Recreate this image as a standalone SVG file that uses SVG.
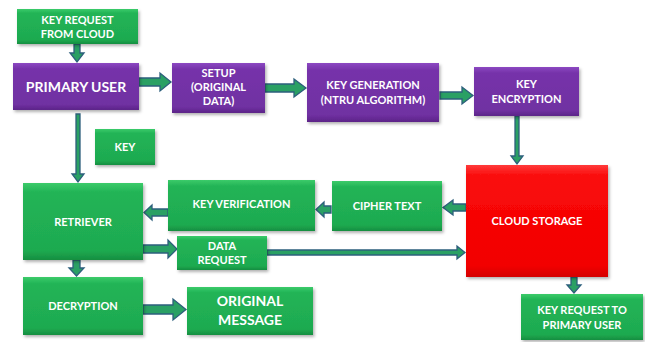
<svg xmlns="http://www.w3.org/2000/svg" width="645" height="342" viewBox="0 0 645 342">
<defs>
<linearGradient id="gG" x1="0" y1="0" x2="0" y2="1">
<stop offset="0" stop-color="#3ccb6a"/><stop offset="0.12" stop-color="#22b456"/><stop offset="0.88" stop-color="#1eaa50"/><stop offset="1" stop-color="#168e40"/>
</linearGradient>
<linearGradient id="gP" x1="0" y1="0" x2="0" y2="1">
<stop offset="0" stop-color="#8c48c2"/><stop offset="0.12" stop-color="#7633aa"/><stop offset="0.88" stop-color="#7030a2"/><stop offset="1" stop-color="#5c2488"/>
</linearGradient>
<linearGradient id="gR" x1="0" y1="0" x2="0" y2="1">
<stop offset="0" stop-color="#ff3a3a"/><stop offset="0.1" stop-color="#fa0a0a"/><stop offset="0.9" stop-color="#f20000"/><stop offset="1" stop-color="#d40000"/>
</linearGradient>
<filter id="sh" x="-10%" y="-10%" width="130%" height="130%">
<feDropShadow dx="1.5" dy="2" stdDeviation="1.5" flood-color="#000" flood-opacity="0.3"/>
</filter>
</defs>
<style>
.g{fill:url(#gG);filter:url(#sh)}
.p{fill:url(#gP);filter:url(#sh)}
.r{fill:url(#gR);filter:url(#sh)}
.t{font-family:Lato,"Open Sans","Liberation Sans",sans-serif;font-weight:bold;fill:#fff;text-anchor:middle;font-size:11px}
.big{font-size:14px}
.a{fill:#2aa064;stroke:#2d5f7c;stroke-width:1.3;stroke-linejoin:miter}
</style>
<rect width="645" height="342" fill="#fff"/>
<g id="connectors">
<polygon class="a" points="74,44 80,44 80,53 84,53 77,62 70,53 74,53"/>
<polygon class="a" points="139,78 160,78 160,73 171,82 160,91 160,86 139,86"/>
<polygon class="a" points="265,84 294,84 294,79 306,88 294,97 294,92 265,92"/>
<polygon class="a" points="440,92 462,92 462,87 473,95.5 462,104 462,99 440,99"/>
<polygon class="a" points="515,116 519,116 519,156 523,156 517,164 511,156 515,156"/>
<polygon class="a" points="76,114 80,114 80,174 84,174 78,182 72,174 76,174"/>
<polygon class="a" points="466,204 453,204 453,200 443,207.5 453,215 453,211 466,211"/>
<polygon class="a" points="331,206 324,206 324,202 316,209.5 324,217 324,213 331,213"/>
<polygon class="a" points="168,209 152,209 152,205 144,212.5 152,220 152,216 168,216"/>
<polygon class="a" points="143,245 168,245 168,240 177,249 168,258 168,253 143,253"/>
<polygon class="a" points="267,250 457,250 457,246 465,252.5 457,259 457,255 267,255"/>
<polygon class="a" points="73,260 80,260 80,268 84,268 76.5,276 69,268 73,268"/>
<polygon class="a" points="143,305 173,305 173,299 186,309.5 173,320 173,314 143,314"/>
<polygon class="a" points="571,277 577,277 577,285 581,285 574,293 567,285 571,285"/>
</g>
<g id="key-request-from-cloud"><rect class="g" x="17" y="9" width="121" height="35"/><text class="t" x="77.5" y="24">KEY REQUEST</text><text class="t" x="77.5" y="38">FROM CLOUD</text></g>
<g id="primary-user"><rect class="p" x="13" y="63" width="126" height="47"/><text class="t big" x="76" y="91.5">PRIMARY USER</text></g>
<g id="setup"><rect class="p" x="172" y="63" width="93" height="50"/><text class="t" x="218.5" y="77">SETUP</text><text class="t" x="218.5" y="91">(ORIGINAL</text><text class="t" x="218.5" y="105">DATA)</text></g>
<g id="key-generation"><rect class="p" x="307" y="63" width="132" height="59"/><text class="t" x="373" y="89">KEY GENERATION</text><text class="t" x="373" y="104">(NTRU ALGORITHM)</text></g>
<g id="key-encryption"><rect class="p" x="474" y="67" width="105" height="49"/><text class="t" x="526.5" y="88">KEY</text><text class="t" x="526.5" y="103">ENCRYPTION</text></g>
<g id="key"><rect class="g" x="95" y="129" width="60" height="36"/><text class="t" x="125" y="151">KEY</text></g>
<g id="cloud-storage"><rect class="r" x="466" y="165" width="142" height="112"/><text class="t" x="537" y="225">CLOUD STORAGE</text></g>
<g id="cipher-text"><rect class="g" x="332" y="181" width="110" height="50"/><text class="t" x="387" y="210">CIPHER TEXT</text></g>
<g id="key-verification"><rect class="g" x="168" y="180" width="147" height="51"/><text class="t" x="241.5" y="208">KEY VERIFICATION</text></g>
<g id="retriever"><rect class="g" x="23" y="183" width="120" height="77"/><text class="t" x="83" y="226">RETRIEVER</text></g>
<g id="data-request"><rect class="g" x="177" y="236" width="90" height="34"/><text class="t" x="222" y="250">DATA</text><text class="t" x="222" y="264">REQUEST</text></g>
<g id="decryption"><rect class="g" x="23" y="277" width="120" height="58"/><text class="t" x="83" y="310">DECRYPTION</text></g>
<g id="original-message"><rect class="g" x="187" y="287" width="126" height="48"/><text class="t big" x="250" y="306">ORIGINAL</text><text class="t big" x="250" y="325">MESSAGE</text></g>
<g id="key-request-to-primary-user"><rect class="g" x="521" y="294" width="122" height="46"/><text class="t" x="582" y="314">KEY REQUEST TO</text><text class="t" x="582" y="329">PRIMARY USER</text></g>
</svg>
